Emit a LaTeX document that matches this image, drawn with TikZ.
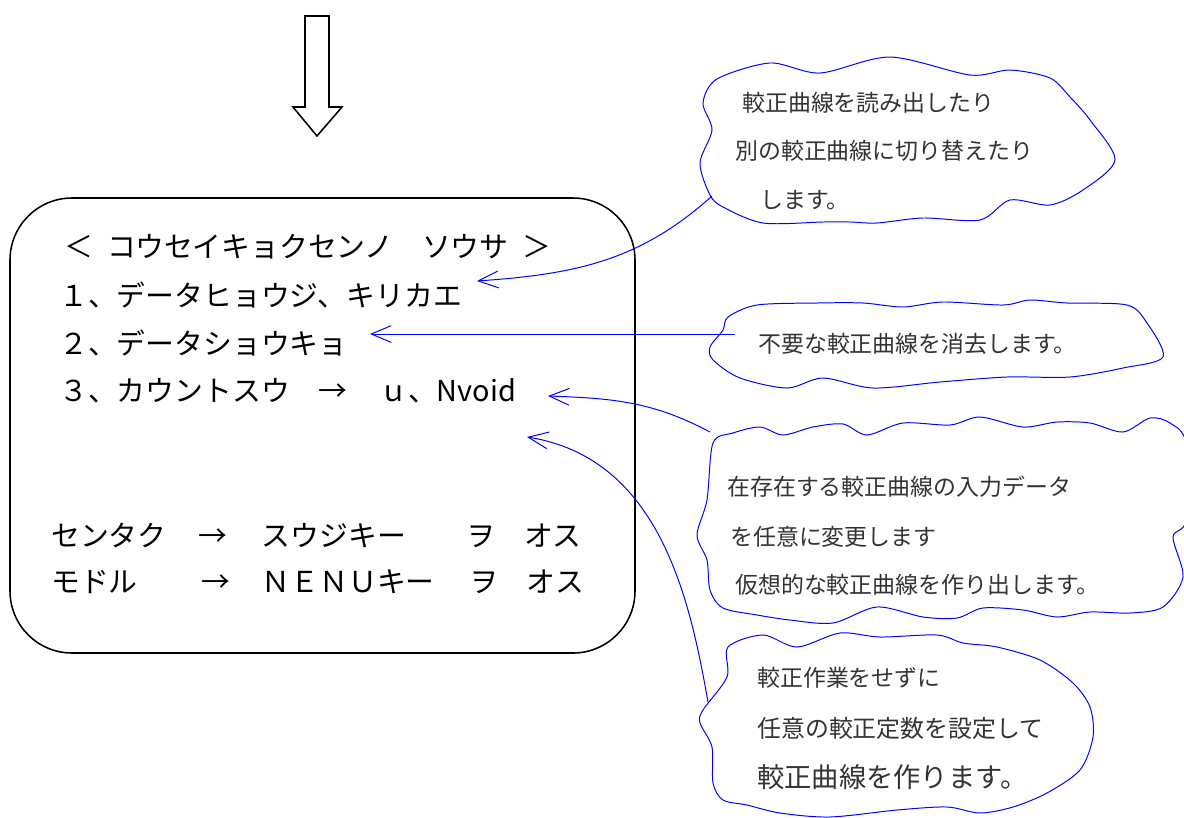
\documentclass[tikz,border=0pt]{standalone}
\usepackage{fontspec}
\setmainfont{Noto Sans CJK JP}
\usetikzlibrary{arrows.meta}

\begin{document}
\begin{tikzpicture}[x=0.025cm, y=-0.025cm,
        boxtext/.style={anchor=west, inner sep=0pt, font=\fontsize{20.5pt}{24pt}\selectfont},
        notetext/.style={anchor=west, inner sep=0pt, text=black!80, font=\fontsize{16.3pt}{20pt}\selectfont},
        cloud/.style={draw=blue, line width=0.7pt},
        pointer/.style={draw=blue, line width=0.7pt, -{Straight Barb[length=0.5cm, width=0.42cm]}}]
        \useasboundingbox (0,0) rectangle (1184,817);

        % Draw down arrow
        \draw[line width=1.1pt] (305,16) -- (329,16) -- (329,107) -- (342,107) -- (317,136) -- (293,107) -- (305,107) -- cycle;

        % Draw menu box
        \draw[line width=1.1pt, rounded corners=1.55cm] (10,198) rectangle (635,653);

        % Menu lines
        \node[boxtext] (title) at (64,247) {＜\hspace{0.5em}コウセイキョクセンノ　ソウサ\hspace{0.5em}＞};
        \node[boxtext] (item1) at (59,295) {１、データヒョウジ、キリカエ};
        \node[boxtext] (item2) at (59,343) {２、データショウキョ};
        \node[boxtext] (item3) at (59,391) {３、カウントスウ　→\hspace{1.1em}ｕ、Nvoid};
        \node[boxtext] (select) at (51,535) {センタク\hspace{1.1em}→\hspace{1.2em}スウジキー\hspace{2.1em}ヲ　オス};
        \node[boxtext] (back) at (51,582) {モドル\hspace{2.2em}→\hspace{1.1em}ＮＥＮＵキー\hspace{1.2em}ヲ　オス};

        % Draw clouds
        \draw[cloud] plot[smooth cycle] coordinates {(717,79) (770,63) (820,73) (890,57) (970,75) (1010,70) (1050,78) (1070,97) (1090,120) (1115,160) (1083,190) (1050,205) (1010,200) (980,220) (923,218) (877,223) (850,222) (823,222) (763,223) (723,207) (710,195) (700,163) (712,130) (703,103)};
        \draw[cloud] plot[smooth cycle] coordinates {(728,317) (757,305) (817,303) (863,303) (903,307) (943,302) (1003,305) (1030,300) (1067,303) (1127,305) (1147,323) (1163,357) (1123,368) (1070,377) (1007,377) (940,382) (873,388) (823,378) (787,388) (740,378) (713,360) (710,347) (723,330)};
        \draw[cloud] plot[smooth cycle] coordinates {(713,443) (733,433) (760,427) (783,435) (813,427) (843,424) (867,435) (903,423) (950,425) (980,417) (1023,427) (1057,422) (1090,423) (1123,432) (1150,418) (1170,423) (1186,443) (1186,520) (1173,537) (1183,577) (1163,607) (1130,613) (1090,612) (1057,617) (1023,610) (983,608) (957,618) (923,617) (877,607) (833,623) (790,620) (757,615) (723,608) (710,590) (707,560) (697,535) (707,500)};
        \draw[cloud] plot[smooth cycle] coordinates {(728,647) (763,635) (797,647) (840,633) (880,637) (937,635) (963,643) (997,647) (1040,660) (1073,683) (1090,707) (1093,737) (1080,770) (1047,793) (1013,807) (980,813) (947,807) (897,810) (830,817) (780,813) (747,805) (723,800) (713,783) (712,747) (700,723) (703,710) (727,677)};

        % Cloud texts
        \node[notetext] (read1) at (742,103) {較正曲線を読み出したり};
        \node[notetext] (read2) at (735,151) {別の較正曲線に切り替えたり};
        \node[notetext] (read3) at (760,200) {します。};
        \node[notetext] (erase) at (758,344) {不要な較正曲線を消去します。};
        \node[notetext] (change1) at (727,487) {在存在する較正曲線の入力データ};
        \node[notetext] (change2) at (730,537) {を任意に変更します};
        \node[notetext] (change3) at (735,585) {仮想的な較正曲線を作り出します。};
        \node[notetext] (make1) at (757,678) {較正作業をせずに};
        \node[notetext, font=\fontsize{17pt}{20pt}\selectfont] (make2) at (757,728) {任意の較正定数を設定して};
        \node[notetext, font=\fontsize{19.4pt}{23pt}\selectfont] (make3) at (757,777) {較正曲線を作ります。};

        % Draw pointers
        \coordinate (tail1) at (712,196);
        \coordinate (tip1) at (477,281);
        \coordinate (tail2) at (735,334);
        \coordinate (tip2) at (370,334);
        \coordinate (tail3) at (710,432);
        \coordinate (tip3) at (548,396);
        \coordinate (tail4) at (708,702);
        \coordinate (tip4) at (527,437);
        \draw[pointer] (tail1) to[out=222, in=4] (tip1);
        \draw[pointer] (tail2) -- (tip2);
        \draw[pointer] (tail3) to[out=152, in=-2] (tip3);
        \draw[pointer] (tail4) .. controls (690,600) and (660,458) .. (tip4);
    \end{tikzpicture}
\end{document}
